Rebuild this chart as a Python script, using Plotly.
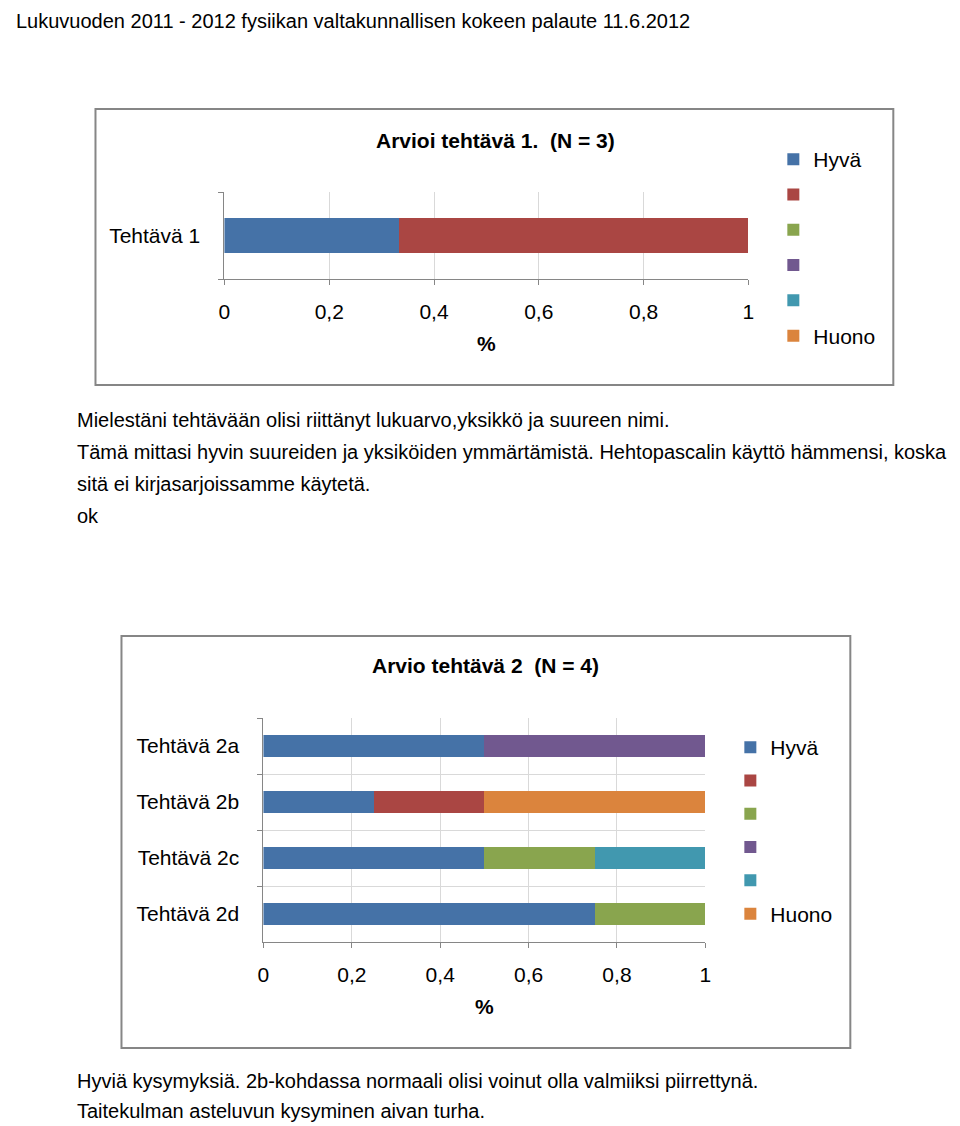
import plotly.graph_objects as go

W, H = 944, 1118
FONT = "Liberation Sans"

# ---- data ----
series_names = ["Hyvä", " ", "  ", "   ", "    ", "Huono"]
series_colors = ["#4572A7", "#AA4643", "#89A54E", "#71588F", "#4198AF", "#DB843D"]

cats1 = ["Tehtävä 1"]
vals1 = [[1/3], [2/3], [0], [0], [0], [0]]

cats2 = ["Tehtävä 2a", "Tehtävä 2b", "Tehtävä 2c", "Tehtävä 2d"]
vals2 = [
    [0.50, 0.25, 0.50, 0.75],  # Hyvä
    [0.00, 0.25, 0.00, 0.00],
    [0.00, 0.00, 0.25, 0.25],
    [0.50, 0.00, 0.00, 0.00],
    [0.00, 0.00, 0.25, 0.00],
    [0.00, 0.50, 0.00, 0.00],  # Huono
]

title1 = "<b>Arvioi tehtävä 1.  (N = 3)</b>"
title2 = "<b>Arvio tehtävä 2  (N = 4)</b>"
header = "Lukuvuoden 2011 - 2012 fysiikan valtakunnallisen kokeen palaute 11.6.2012"
text1 = [
    "Mielestäni tehtävään olisi riittänyt lukuarvo,yksikkö ja suureen nimi.",
    "Tämä mittasi hyvin suureiden ja yksiköiden ymmärtämistä. Hehtopascalin käyttö hämmensi, koska",
    "sitä ei kirjasarjoissamme käytetä.",
    "ok",
]
text2 = [
    "Hyviä kysymyksiä. 2b-kohdassa normaali olisi voinut olla valmiiksi piirrettynä.",
    "Taitekulman asteluvun kysyminen aivan turha.",
]

# page-pixel -> paper fraction (compensates the page offset of the viewer)
SX, OX, OY = 0.9875, 13.5, 8


def fx(x):
    return max(0.0, ((x - OX) / SX) / W)


def fy(y):
    return 1 - (y - OY) / H


fig = go.Figure()

for i, (name, col) in enumerate(zip(series_names, series_colors)):
    fig.add_trace(go.Bar(
        x=vals1[i], y=cats1, orientation="h", name=name,
        marker=dict(color=col, line=dict(width=0)), width=0.4,
        xaxis="x", yaxis="y", legend="legend", legendgroup=f"a{i}",
    ))
for i, (name, col) in enumerate(zip(series_names, series_colors)):
    fig.add_trace(go.Bar(
        x=vals2[i], y=cats2, orientation="h", name=name,
        marker=dict(color=col, line=dict(width=0)), width=0.4,
        xaxis="x2", yaxis="y2", legend="legend2", legendgroup=f"b{i}",
    ))

axis_font = dict(family=FONT, size=21, color="#000000")
xcommon = dict(
    range=[0, 1], dtick=0.2, tick0=0, showgrid=True, gridcolor="#D9D9D9", gridwidth=1,
    showline=True, linecolor="#868686", linewidth=1, ticks="outside", ticklen=5,
    tickcolor="#868686", tickfont=axis_font, zeroline=False, ticklabelstandoff=9,
    title=dict(text="<b>%</b>", font=dict(family=FONT, size=21, color="#000"), standoff=14),
    fixedrange=True,
)
ycommon = dict(
    type="category", tickson="boundaries", showgrid=True, gridcolor="#D9D9D9",
    showline=True, linecolor="#868686", linewidth=1, ticks="outside", ticklen=5,
    tickcolor="#868686", tickfont=axis_font, ticklabelstandoff=19, zeroline=False,
)

fig.update_layout(
    width=W, height=H, margin=dict(l=0, r=0, t=0, b=0),
    paper_bgcolor="white", plot_bgcolor="white",
    barmode="stack", separators=", ", showlegend=True,
    font=dict(family=FONT, color="#000"),
    xaxis=dict(domain=[fx(224), fx(748)], anchor="y", **xcommon),
    yaxis=dict(domain=[fy(279), fy(192)], anchor="x", **ycommon),
    xaxis2=dict(domain=[fx(263), fx(705)], anchor="y2", **xcommon),
    yaxis2=dict(domain=[fy(942), fy(718)], anchor="x2", autorange="reversed", **ycommon),
    legend=dict(x=fx(773), y=fy(139), xanchor="left", yanchor="top",
                traceorder="grouped", tracegroupgap=5,
                font=dict(family=FONT, size=21, color="#000"), bgcolor="rgba(0,0,0,0)"),
    legend2=dict(x=fx(730), y=fy(727), xanchor="left", yanchor="top",
                 traceorder="grouped", tracegroupgap=3,
                 font=dict(family=FONT, size=21, color="#000"), bgcolor="rgba(0,0,0,0)"),
)

# chart borders
fig.add_shape(type="rect", xref="paper", yref="paper",
              x0=fx(95), x1=fx(893), y0=fy(385), y1=fy(109),
              line=dict(color="#868686", width=2), layer="below")
fig.add_shape(type="rect", xref="paper", yref="paper",
              x0=fx(121), x1=fx(850), y0=fy(1048), y1=fy(636),
              line=dict(color="#868686", width=2), layer="below")

# titles
fig.add_annotation(text=title1, x=fx(495), y=fy(140), xref="paper", yref="paper",
                   xanchor="center", yanchor="middle", showarrow=False,
                   font=dict(family=FONT, size=21, color="#000"))
fig.add_annotation(text=title2, x=fx(485), y=fy(665), xref="paper", yref="paper",
                   xanchor="center", yanchor="middle", showarrow=False,
                   font=dict(family=FONT, size=21, color="#000"))

# header and body text
fig.add_annotation(text=header, x=0, y=1, xref="paper", yref="paper",
                   xanchor="left", yanchor="top", showarrow=False,
                   font=dict(family=FONT, size=20, color="#000"))
for k, line in enumerate(text1):
    fig.add_annotation(text=line, x=fx(75), y=fy(420 + 32 * k), xref="paper", yref="paper",
                       xanchor="left", yanchor="middle", showarrow=False,
                       font=dict(family=FONT, size=20, color="#000"))
for k, line in enumerate(text2):
    fig.add_annotation(text=line, x=fx(75), y=fy(1081 + 30 * k), xref="paper", yref="paper",
                       xanchor="left", yanchor="middle", showarrow=False,
                       font=dict(family=FONT, size=20, color="#000"))

fig.write_html("out.html")
